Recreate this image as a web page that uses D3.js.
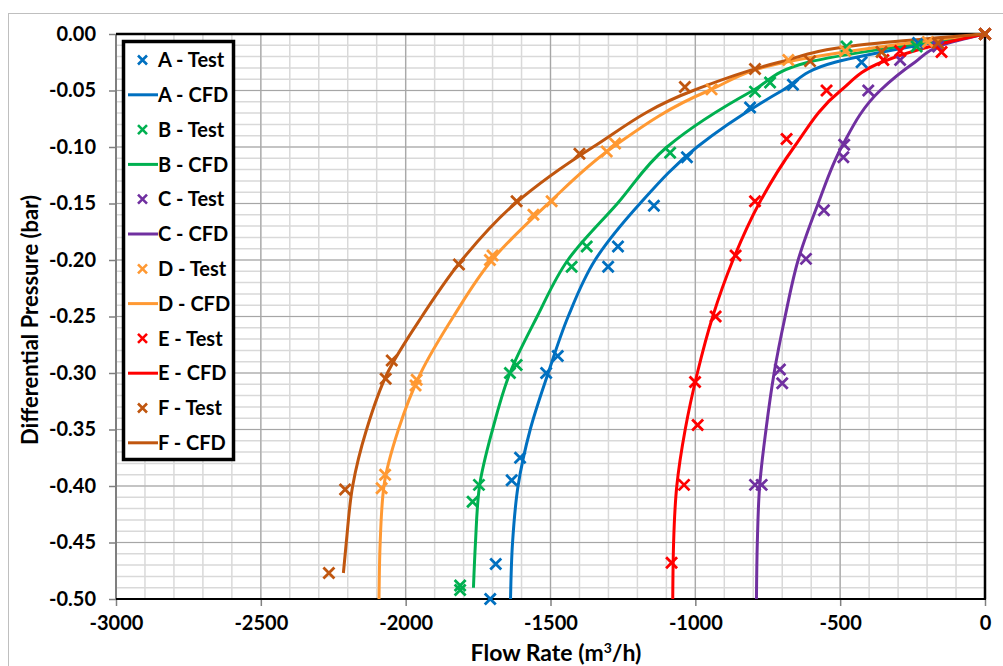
<!DOCTYPE html>
<html>
<head>
<meta charset="utf-8">
<script src="https://cdnjs.cloudflare.com/ajax/libs/d3/7.8.5/d3.min.js"></script>
<style>
  body { margin: 0; background: #fff; }
  text { font-family: Lato, "Open Sans", sans-serif; font-weight: bold; fill: #000; }
</style>
</head>
<body>
<script>
// series names and colours
var seriesNames  = ['A', 'B', 'C', 'D', 'E', 'F'];
var seriesColors = ['#0070C0', '#00B050', '#7030A0', '#FF9933', '#FF0000', '#C0560F'];

// test points [flow, pressure]
var testA = [[0,0],[-231,-0.008],[-426,-0.025],[-663,-0.045],[-811,-0.065],[-1029,-0.109],[-1143,-0.152],
             [-1267,-0.188],[-1301,-0.206],[-1475,-0.285],[-1515,-0.300],[-1605,-0.375],[-1634,-0.395],
             [-1689,-0.469],[-1708,-0.500]];
var testB = [[0,0],[-236,-0.011],[-478,-0.011],[-742,-0.043],[-794,-0.051],[-1087,-0.105],[-1375,-0.188],
             [-1427,-0.206],[-1617,-0.293],[-1640,-0.300],[-1747,-0.399],[-1769,-0.414],[-1812,-0.488],
             [-1812,-0.492]];
var testC = [[0,0],[-162,-0.011],[-293,-0.023],[-403,-0.050],[-486,-0.098],[-489,-0.109],[-556,-0.156],
             [-618,-0.199],[-708,-0.297],[-700,-0.309],[-794,-0.399],[-771,-0.399]];
var testD = [[0,0],[-197,-0.007],[-483,-0.015],[-679,-0.023],[-944,-0.049],[-1277,-0.097],[-1306,-0.104],
             [-1496,-0.148],[-1559,-0.160],[-1700,-0.196],[-1709,-0.200],[-1962,-0.306],[-1966,-0.311],
             [-2071,-0.390],[-2083,-0.402]];
var testE = [[0,0],[-150,-0.016],[-293,-0.015],[-351,-0.023],[-547,-0.050],[-685,-0.093],[-794,-0.148],
             [-861,-0.196],[-930,-0.250],[-1001,-0.308],[-992,-0.346],[-1039,-0.399],[-1082,-0.468]];
var testF = [[0,0],[-162,-0.008],[-357,-0.016],[-604,-0.024],[-794,-0.031],[-1036,-0.047],[-1400,-0.106],
             [-1617,-0.148],[-1816,-0.204],[-2048,-0.289],[-2069,-0.305],[-2209,-0.403],[-2265,-0.477]];

// CFD curves [flow, pressure]
var cfdA = [[0,0],[-230,-0.01],[-518,-0.025],[-700,-0.05],[-994,-0.1],[-1191,-0.15],[-1346,-0.2],
            [-1439,-0.25],[-1508,-0.3],[-1570,-0.35],[-1612,-0.4],[-1631,-0.45],[-1638,-0.5]];
var cfdB = [[0,0],[-270,-0.01],[-610,-0.025],[-801,-0.05],[-1098,-0.1],[-1269,-0.15],[-1440,-0.2],
            [-1546,-0.25],[-1640,-0.3],[-1700,-0.35],[-1745,-0.4],[-1759,-0.45],[-1766,-0.49]];
var cfdC = [[0,0],[-150,-0.01],[-242,-0.025],[-362,-0.05],[-495,-0.1],[-576,-0.15],[-645,-0.2],
            [-690,-0.25],[-728,-0.3],[-756,-0.35],[-778,-0.4],[-786,-0.45],[-789,-0.5]];
var cfdD = [[0,0],[-320,-0.01],[-690,-0.025],[-953,-0.05],[-1284,-0.1],[-1508,-0.15],[-1702,-0.2],
            [-1835,-0.25],[-1948,-0.3],[-2025,-0.35],[-2075,-0.4],[-2088,-0.45],[-2092,-0.5]];
var cfdE = [[0,0],[-173,-0.01],[-357,-0.025],[-498,-0.05],[-659,-0.1],[-780,-0.15],[-870,-0.2],
            [-940,-0.25],[-993,-0.3],[-1035,-0.35],[-1064,-0.4],[-1075,-0.45],[-1078,-0.5]];
var cfdF = [[0,0],[-440,-0.01],[-711,-0.025],[-1007,-0.05],[-1353,-0.1],[-1622,-0.15],[-1806,-0.2],
            [-1944,-0.25],[-2063,-0.3],[-2135,-0.35],[-2183,-0.4],[-2205,-0.45],[-2215,-0.477]];

var testData = [testA, testB, testC, testD, testE, testF];
var cfdData  = [cfdA, cfdB, cfdC, cfdD, cfdE, cfdF];

// axis ticks
var xTicks = [-3000, -2500, -2000, -1500, -1000, -500, 0];
var yTicks = [0, -0.05, -0.1, -0.15, -0.2, -0.25, -0.3, -0.35, -0.4, -0.45, -0.5];
var xMinor = d3.range(-3000, 1, 100);
var yMinor = d3.range(0, 51).map(function(i){ return -i / 100; });

var W = 1003, H = 666;
var pLeft = 116, pRight = 985, pTop = 34, pBottom = 599;

var svg = d3.select('body').append('svg')
            .attr('width', W)
            .attr('height', H);

var x = d3.scaleLinear().domain([-3000, 0]).range([pLeft, pRight]);
var y = d3.scaleLinear().domain([-0.5, 0]).range([pBottom, pTop]);

svg.append('rect')
   .attr('x', 8.5).attr('y', 13.5)
   .attr('width', 1100).attr('height', 700)
   .attr('fill', 'none').attr('stroke', '#BFBFBF');

drawGrid();
drawAxes();
drawSeries();
drawLegend();
drawTitles();

function drawGrid(){
  var g = svg.append('g');
  g.selectAll('.vmin').data(xMinor).enter().append('line')
   .attr('x1', function(d){ return x(d); }).attr('x2', function(d){ return x(d); })
   .attr('y1', pTop).attr('y2', pBottom)
   .attr('stroke', '#D9D9D9').attr('stroke-width', 1.5);
  g.selectAll('.hmin').data(yMinor).enter().append('line')
   .attr('y1', function(d){ return y(d); }).attr('y2', function(d){ return y(d); })
   .attr('x1', pLeft).attr('x2', pRight)
   .attr('stroke', '#D9D9D9').attr('stroke-width', 1.5);
  g.selectAll('.vmaj').data(xTicks).enter().append('line')
   .attr('x1', function(d){ return x(d); }).attr('x2', function(d){ return x(d); })
   .attr('y1', pTop).attr('y2', pBottom)
   .attr('stroke', '#A6A6A6').attr('stroke-width', 1.2);
  g.selectAll('.hmaj').data(yTicks).enter().append('line')
   .attr('y1', function(d){ return y(d); }).attr('y2', function(d){ return y(d); })
   .attr('x1', pLeft).attr('x2', pRight)
   .attr('stroke', '#A6A6A6').attr('stroke-width', 1.2);
}

function drawAxes(){
  var xAxis = d3.axisBottom(x).tickValues(xTicks).tickSize(7).tickPadding(10);
  var gx = svg.append('g').attr('transform', 'translate(0,' + pBottom + ')').call(xAxis);
  gx.select('.domain').remove();
  gx.selectAll('.tick line').attr('stroke', '#808080').attr('stroke-width', 1.5);
  gx.selectAll('.tick text').style('font-size', '20px').attr('fill', '#000')
    .text(function(d){ return String(d); });

  var yAxis = d3.axisLeft(y).tickValues(yTicks).tickSize(7).tickPadding(13);
  var gy = svg.append('g').attr('transform', 'translate(' + pLeft + ',0)').call(yAxis);
  gy.select('.domain').remove();
  gy.selectAll('.tick line').attr('stroke', '#808080').attr('stroke-width', 1.5);
  gy.selectAll('.tick text').style('font-size', '20px').attr('fill', '#000')
    .text(function(d){ return d.toFixed(2).replace('-0.00', '0.00'); });

  // frame of the plot area
  svg.append('line').attr('x1', pLeft).attr('x2', pLeft).attr('y1', pTop).attr('y2', pBottom)
     .attr('stroke', '#7F7F7F').attr('stroke-width', 2);
  svg.append('line').attr('x1', pLeft).attr('x2', pRight + 1).attr('y1', pTop).attr('y2', pTop)
     .attr('stroke', '#000').attr('stroke-width', 2.5);
  svg.append('line').attr('x1', pLeft).attr('x2', pRight + 1).attr('y1', pBottom).attr('y2', pBottom)
     .attr('stroke', '#000').attr('stroke-width', 2);
  svg.append('line').attr('x1', pRight).attr('x2', pRight).attr('y1', pTop).attr('y2', pBottom)
     .attr('stroke', '#000').attr('stroke-width', 2.5);
}

function crossPath(s){
  return 'M' + (-s) + ',' + (-s) + 'L' + s + ',' + s + 'M' + (-s) + ',' + s + 'L' + s + ',' + (-s);
}

function drawSeries(){
  svg.append('clipPath').attr('id', 'plotclip').append('rect')
     .attr('x', pLeft).attr('y', pTop - 1).attr('width', pRight - pLeft).attr('height', pBottom - pTop + 1);

  var line = d3.line()
               .x(function(d){ return x(d[0]); })
               .y(function(d){ return y(d[1]); })
               .curve(d3.curveMonotoneY);

  var g = svg.append('g').attr('clip-path', 'url(#plotclip)');
  cfdData.forEach(function(pts, i){
    g.append('path')
     .attr('d', line(pts))
     .attr('fill', 'none')
     .attr('stroke', seriesColors[i])
     .attr('stroke-width', 3);
  });

  var gm = svg.append('g');
  testData.forEach(function(pts, i){
    gm.selectAll(null).data(pts).enter().append('path')
      .attr('transform', function(d){ return 'translate(' + x(d[0]) + ',' + y(d[1]) + ')'; })
      .attr('d', crossPath(5.5))
      .attr('stroke', seriesColors[i])
      .attr('stroke-width', 2.8)
      .attr('fill', 'none');
  });
}

function drawLegend(){
  var g = svg.append('g');
  g.append('rect')
   .attr('x', 123.5).attr('y', 41.5).attr('width', 110).attr('height', 418)
   .attr('fill', '#fff').attr('stroke', '#000').attr('stroke-width', 3.5);

  var items = [];
  seriesNames.forEach(function(n, i){
    items.push({label: n + ' - Test', type: 'test', color: seriesColors[i]});
    items.push({label: n + ' - CFD', type: 'cfd', color: seriesColors[i]});
  });

  items.forEach(function(it, i){
    var cy = 60 + i * 34.8;
    if (it.type === 'test') {
      g.append('path')
       .attr('transform', 'translate(142.5,' + cy + ')')
       .attr('d', crossPath(4.5))
       .attr('stroke', it.color).attr('stroke-width', 2.6).attr('fill', 'none');
    } else {
      g.append('line')
       .attr('x1', 128).attr('x2', 158).attr('y1', cy).attr('y2', cy)
       .attr('stroke', it.color).attr('stroke-width', 3);
    }
    g.append('text')
     .attr('x', 158).attr('y', cy)
     .attr('dy', '0.36em')
     .style('font-size', '20px')
     .text(it.label);
  });
}

function drawTitles(){
  var t = svg.append('text')
             .attr('x', 556).attr('y', 661)
             .attr('text-anchor', 'middle')
             .style('font-size', '23px');
  t.append('tspan').text('Flow Rate (m');
  t.append('tspan').attr('dy', -8).style('font-size', '14px').text('3');
  t.append('tspan').attr('dy', 8).text('/h)');

  svg.append('text')
     .attr('transform', 'translate(38,320) rotate(-90)')
     .attr('text-anchor', 'middle')
     .style('font-size', '22px')
     .text('Differential Pressure (bar)');
}
</script>
</body>
</html>
